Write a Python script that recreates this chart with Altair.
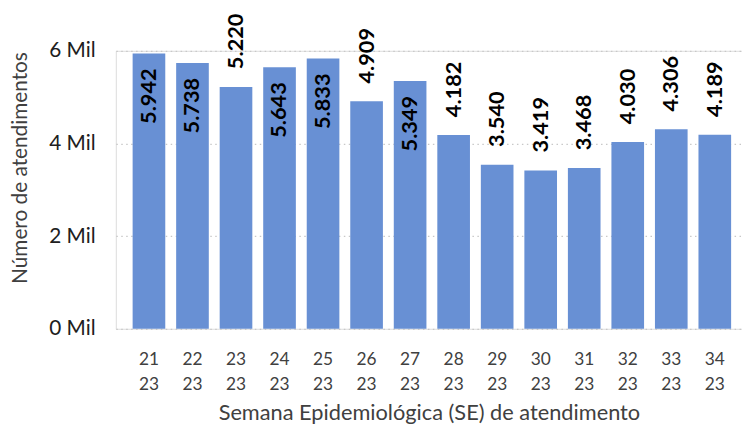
import altair as alt
import pandas as pd

semanas = ["21", "22", "23", "24", "25", "26", "27", "28", "29", "30", "31", "32", "33", "34"]
ano = "23"
atendimentos = [5942, 5738, 5220, 5643, 5833, 4909, 5349, 4182, 3540, 3419, 3468, 4030, 4306, 4189]
y_ticks = [0, 2000, 4000, 6000]

df = pd.DataFrame({
    "se": [f"{s}/{ano}" for s in semanas],
    "atend": atendimentos,
})

FONT = "Lato"
BAR = "#6890D4"
order = list(df["se"])

x = alt.X("se:N", sort=order,
          scale=alt.Scale(paddingInner=0.25, paddingOuter=0.318, align=0.607),
          axis=alt.Axis(title="Semana Epidemiológica (SE) de atendimento",
                        labelExpr="split(datum.value, '/')",
                        labelAngle=0, labelFont=FONT, labelFontSize=17.5,
                        labelColor="#404040", labelLineHeight=25,
                        labelPadding=22, ticks=False, domain=False, grid=False,
                        titleFont=FONT, titleFontSize=22, titleFontWeight="normal",
                        titleColor="#404040", titleBaseline="alphabetic", titleY=92))

y_scale = alt.Scale(domain=[0, 6000])

bars = alt.Chart(df).mark_bar(color=BAR).encode(
    x=x,
    y=alt.Y("atend:Q", scale=y_scale,
            axis=alt.Axis(title="Número de atendimentos", values=y_ticks,
                          labelExpr="datum.value / 1000 + ' Mil'",
                          labelFont=FONT, labelFontSize=21, labelColor="#202020",
                          labelPadding=21, ticks=False, domain=False,
                          grid=True, gridColor="#c8c8c8", gridDash=[1.5, 3.5], gridWidth=1.3,
                          titleFont=FONT, titleFontSize=21, titleFontWeight="normal",
                          titleColor="#404040", titleBaseline="alphabetic",
                          titleX=-90, titleY=118, titleAngle=-90)),
)

base_text = alt.Chart(df).transform_calculate(
    lbl="replace(format(datum.atend, ',d'), ',', '.')"
)

inside = base_text.transform_filter("datum.atend >= 5300").mark_text(
    angle=270, align="right", baseline="middle", dx=-15,
    font=FONT, fontSize=22, fontWeight="bold", color="#000000"
).encode(x=alt.X("se:N", sort=order), y=alt.Y("atend:Q", scale=y_scale), text="lbl:N")

outside = base_text.transform_filter("datum.atend < 5300").mark_text(
    angle=270, align="left", baseline="middle", dx=18,
    font=FONT, fontSize=22, fontWeight="bold", color="#000000"
).encode(x=alt.X("se:N", sort=order), y=alt.Y("atend:Q", scale=y_scale), text="lbl:N")

chart = alt.layer(bars, inside, outside).properties(
    width=633, height=281,
    autosize=alt.AutoSizeParams(type="none"),
    padding={"left": 109, "top": 41, "right": 0, "bottom": 97},
).configure_view(stroke=None).configure(background="#ffffff")

chart.save("out.html", embed_options={"renderer": "svg", "actions": False})
